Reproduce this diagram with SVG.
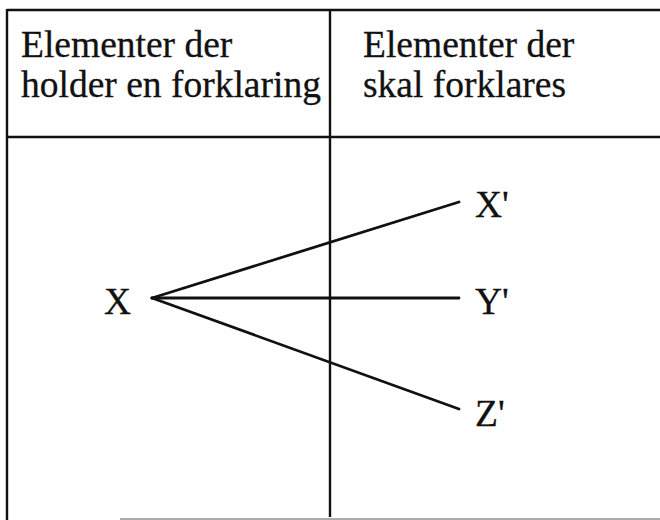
<svg xmlns="http://www.w3.org/2000/svg" width="660" height="520" viewBox="0 0 660 520">
<style>
.t{font-family:"Liberation Serif","Times New Roman",serif;font-size:37.5px;fill:#111;stroke:#111;stroke-width:0.3}
.b{stroke:#111;stroke-width:2.4;fill:none}
.c{stroke:#111;stroke-width:2.8;fill:none;stroke-linecap:round}
</style>
<rect width="660" height="520" fill="#fff"/>
<g id="table">
<line class="b" x1="7" y1="10" x2="660" y2="10"/>
<line class="b" x1="7" y1="9" x2="7" y2="520"/>
<line class="b" x1="7" y1="137" x2="660" y2="137"/>
<line class="b" x1="330" y1="10" x2="330" y2="517"/>
<line x1="120" y1="519" x2="660" y2="519" stroke="#aaa" stroke-width="2"/>
</g>
<g id="header-left"><text class="t" x="21" y="57">Elementer der</text><text class="t" x="21" y="97">holder en forklaring</text></g>
<g id="header-right"><text class="t" x="363" y="57">Elementer der</text><text class="t" x="363" y="97">skal forklares</text></g>
<g id="node-X"><text class="t" x="104" y="314">X</text></g>
<g id="node-Xp"><text class="t" x="475" y="217">X'</text></g>
<g id="node-Yp"><text class="t" x="475" y="314">Y'</text></g>
<g id="node-Zp"><text class="t" x="475" y="426">Z'</text></g>
<g id="connectors">
<line class="c" x1="152" y1="298" x2="459" y2="202"/>
<line class="c" x1="152" y1="298" x2="459" y2="298"/>
<line class="c" x1="152" y1="298" x2="459" y2="409"/>
</g>
</svg>
